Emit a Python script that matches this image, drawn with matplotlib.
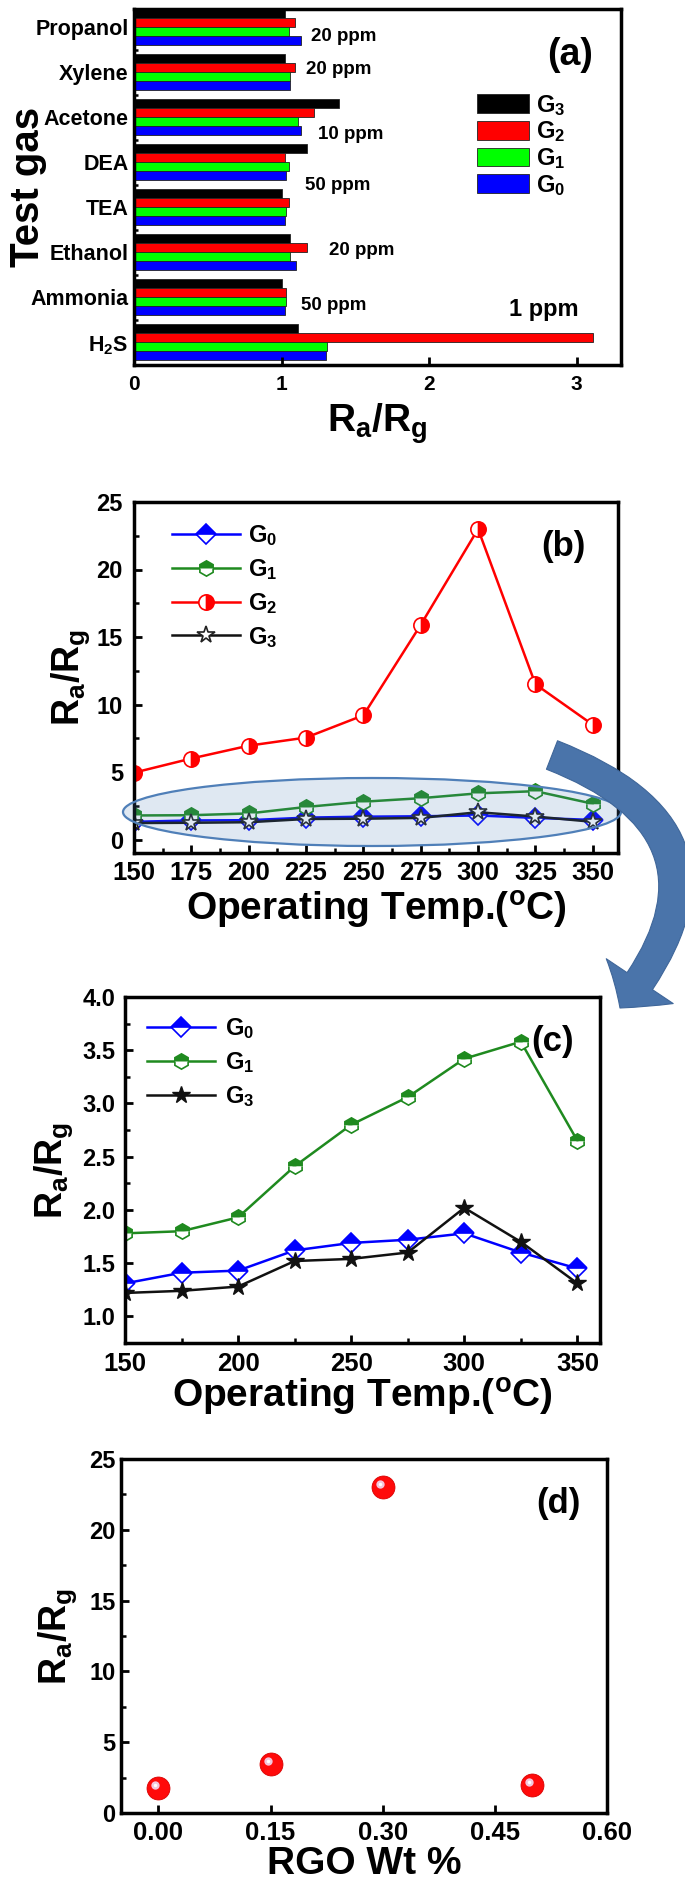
import matplotlib
matplotlib.use('Agg')
import matplotlib.pyplot as plt
from matplotlib.patches import Ellipse, FancyArrowPatch
from matplotlib.ticker import MultipleLocator, FormatStrFormatter
from matplotlib.transforms import offset_copy

plt.rcParams['font.family'] = ['Liberation Sans', 'DejaVu Sans']
plt.rcParams['font.weight'] = 'bold'
plt.rcParams['axes.labelweight'] = 'bold'
plt.rcParams['mathtext.fontset'] = 'custom'
plt.rcParams['mathtext.rm'] = 'Liberation Sans:bold'
plt.rcParams['mathtext.it'] = 'Liberation Sans:bold'
plt.rcParams['mathtext.bf'] = 'Liberation Sans:bold'
plt.rcParams['mathtext.default'] = 'rm'
plt.rcParams['axes.linewidth'] = 2.5
plt.rcParams['xtick.direction'] = 'in'
plt.rcParams['ytick.direction'] = 'in'

# (a) response to different gases, bottom to top
gases = ['H$_2$S', 'Ammonia', 'Ethanol', 'TEA', 'DEA', 'Acetone', 'Xylene', 'Propanol']
resp_g3 = [1.11, 1.00, 1.06, 1.00, 1.17, 1.39, 1.02, 1.02]
resp_g2 = [3.11, 1.03, 1.17, 1.05, 1.02, 1.22, 1.09, 1.09]
resp_g1 = [1.31, 1.03, 1.06, 1.03, 1.05, 1.11, 1.06, 1.05]
resp_g0 = [1.30, 1.02, 1.10, 1.02, 1.03, 1.13, 1.06, 1.13]
conc_text = ['20 ppm', '20 ppm', '10 ppm', '50 ppm', '20 ppm', '50 ppm']
conc_x = [1.42, 1.39, 1.47, 1.38, 1.54, 1.35]
conc_y = [6.78, 6.06, 4.62, 3.48, 2.04, 0.83]

# (b), (c) response vs operating temperature
temps = [150, 175, 200, 225, 250, 275, 300, 325, 350]
t_g0 = [1.31, 1.41, 1.43, 1.62, 1.69, 1.72, 1.78, 1.60, 1.45]
t_g1 = [1.78, 1.80, 1.93, 2.41, 2.80, 3.06, 3.42, 3.58, 2.65]
t_g2 = [4.95, 6.00, 6.95, 7.55, 9.20, 15.9, 23.0, 11.5, 8.50]
t_g3 = [1.22, 1.24, 1.28, 1.52, 1.54, 1.60, 2.02, 1.70, 1.31]

# (d) response vs RGO loading
rgo = [0.00, 0.15, 0.30, 0.50]
rgo_resp = [1.75, 3.45, 23.0, 2.0]

W, H = 685, 1895
fig = plt.figure(figsize=(W / 100, H / 100), dpi=100)


def box(l, t, r, b):
    return [l / W, 1 - b / H, (r - l) / W, (b - t) / H]


def style(ax, xs=18, ys=16, xpad=6, ypad=7):
    ax.tick_params(which='major', length=6, width=2, labelsize=xs, pad=xpad, axis='x')
    ax.tick_params(which='major', length=6, width=2, labelsize=ys, pad=ypad, axis='y')
    ax.tick_params(which='minor', length=3.5, width=1.8)
    for s in ax.spines.values():
        s.set_linewidth(2.5)


ratio = r'R$_a$/R$_g$'
temp_label = r'Operating Temp.($^\mathrm{o}$C)'

# ---------------- (a)
ax = fig.add_axes(box(134, 9, 621, 365))
y = list(range(len(gases)))
bh = 0.2
for vals, off, col, lab in [(resp_g3, 0.3, '#000000', 'G$_3$'),
                            (resp_g2, 0.1, '#ff0000', 'G$_2$'),
                            (resp_g1, -0.1, '#00ff00', 'G$_1$'),
                            (resp_g0, -0.3, '#0000ff', 'G$_0$')]:
    ax.barh([v + off for v in y], vals, height=bh, color=col,
            edgecolor='#222222', linewidth=0.6, label=lab)
ax.set_xlim(0, 3.3)
ax.set_ylim(-0.5, 7.4)
ax.set_yticks(y)
ax.set_yticklabels(gases)
ax.set_yticks([v + 0.5 for v in y[:-1]], minor=True)
ax.set_xticks([0, 1, 2, 3])
style(ax, xs=15, ys=15.5, xpad=7, ypad=4)
ax.tick_params(axis='y', which='major', length=0)
ax.tick_params(axis='y', which='minor', length=3)
ax.set_xlabel(ratio, fontsize=28)
ax.set_ylabel('Test gas', fontsize=29)
ax.xaxis.set_label_coords(0.5, -0.165)
ax.xaxis.label.set_va('center')
ax.yaxis.set_label_coords(-0.218, 0.5)
ax.yaxis.label.set_va('center')
for t, xx, yy in zip(conc_text, conc_x, conc_y):
    ax.text(xx, yy, t, fontsize=13.5, ha='center', va='center')
ax.text(2.78, 0.74, '1 ppm', fontsize=17, ha='center', va='center')
ax.text(0.895, 0.87, '(a)', transform=ax.transAxes, fontsize=27, ha='center', va='center')
ax.legend(loc='upper left', bbox_to_anchor=(0.704, 0.765), frameon=False,
          fontsize=17, handlelength=2.2, handleheight=0.85, handletextpad=0.3,
          labelspacing=0.08, borderpad=0, borderaxespad=0)

# ---------------- (b)
ax = fig.add_axes(box(134, 502, 618, 853))
ms = 11
ax.plot(temps, t_g0, color='#0000ff', lw=1.8, marker='D', ms=10, fillstyle='top',
        mfc='#0000ff', mfcalt='white', mec='#0000ff', mew=1.2, label='G$_0$')
ax.plot(temps, t_g1, color='#1f8a1f', lw=1.8, marker='h', ms=ms, fillstyle='top',
        mfc='#1f8a1f', mfcalt='white', mec='#1f8a1f', mew=1.2, label='G$_1$')
ax.plot(temps, t_g2, color='#ff0000', lw=1.8, marker='o', ms=ms, fillstyle='right',
        mfc='#ff0000', mfcalt='white', mec='#ff0000', mew=1.2, label='G$_2$')
ax.plot(temps, t_g3, color='#111111', lw=1.8, marker='*', ms=13,
        mfc='white', mec='#222222', mew=1.2, label='G$_3$')
ax.set_xlim(150, 361)
ax.set_ylim(-1, 25)
ax.set_xticks(temps)
ax.xaxis.set_minor_locator(MultipleLocator(12.5))
ax.yaxis.set_major_locator(MultipleLocator(5))
ax.yaxis.set_minor_locator(MultipleLocator(2.5))
style(ax, xs=18.5, ys=17, xpad=6, ypad=8)
ax.set_xlabel(temp_label, fontsize=28)
ax.set_ylabel(ratio, fontsize=27)
ax.xaxis.set_label_coords(0.5, -0.162)
ax.xaxis.label.set_va('center')
ax.yaxis.set_label_coords(-0.13, 0.5)
ax.yaxis.label.set_va('center')
ax.text(0.887, 0.874, '(b)', transform=ax.transAxes, fontsize=25, ha='center', va='center')
ax.legend(loc='upper left', bbox_to_anchor=(0.0785, 0.94), frameon=False,
          fontsize=17, handlelength=2.9, handletextpad=0.3, labelspacing=0.38,
          numpoints=1, borderpad=0, borderaxespad=0)

# highlight ellipse over the low-response curves
fig.add_artist(Ellipse((372 / W, 1 - 812 / H), 498 / W, 68 / H, transform=fig.transFigure,
                       facecolor=(0.31, 0.5, 0.72, 0.18), edgecolor='#4f7fb8', lw=1.6))

# curved arrow from (b) to (c)
fig.add_artist(FancyArrowPatch((552 / W, 1 - 755 / H), (620 / W, 1 - 1008 / H),
                               transform=fig.transFigure,
                               connectionstyle='arc3,rad=-0.68',
                               arrowstyle='simple,head_length=1.2,head_width=2.9,tail_width=1.1',
                               mutation_scale=20, shrinkA=0, shrinkB=0,
                               facecolor='#4a74aa', edgecolor='#3f6699', lw=0.8))

# ---------------- (c)
ax = fig.add_axes(box(125, 997, 600, 1343))
ax.plot(temps, t_g0, color='#0000ff', lw=1.8, marker='D', ms=10, fillstyle='top',
        mfc='#0000ff', mfcalt='white', mec='#0000ff', mew=1.2, label='G$_0$')
ax.plot(temps, t_g1, color='#1f8a1f', lw=1.8, marker='h', ms=ms, fillstyle='top',
        mfc='#1f8a1f', mfcalt='white', mec='#1f8a1f', mew=1.2, label='G$_1$')
ax.plot(temps, t_g3, color='#111111', lw=1.8, marker='*', ms=13,
        mfc='#111111', mec='#111111', mew=1.0, label='G$_3$')
ax.set_xlim(150, 360)
ax.set_ylim(0.75, 4.0)
ax.xaxis.set_major_locator(MultipleLocator(50))
ax.xaxis.set_minor_locator(MultipleLocator(25))
ax.yaxis.set_major_locator(MultipleLocator(0.5))
ax.yaxis.set_minor_locator(MultipleLocator(0.25))
ax.yaxis.set_major_formatter(FormatStrFormatter('%.1f'))
style(ax, xs=18.5, ys=17, xpad=6.5, ypad=7)
ax.set_xlabel(temp_label, fontsize=28)
ax.set_ylabel(ratio, fontsize=27)
ax.xaxis.set_label_coords(0.5, -0.156)
ax.xaxis.label.set_va('center')
ax.yaxis.set_label_coords(-0.15, 0.5)
ax.yaxis.label.set_va('center')
ax.text(0.9, 0.87, '(c)', transform=ax.transAxes, fontsize=25, ha='center', va='center')
ax.legend(loc='upper left', bbox_to_anchor=(0.046, 0.945), frameon=False,
          fontsize=17, handlelength=2.9, handletextpad=0.4, labelspacing=0.38,
          numpoints=1, borderpad=0, borderaxespad=0)

# ---------------- (d)
ax = fig.add_axes(box(121, 1459, 607, 1813))
ax.plot(rgo, rgo_resp, ls='none', marker='o', ms=16.5, mfc='#ff0a0a', mec='#d80000', mew=0.6)
hl = offset_copy(ax.transData, fig=fig, x=-3, y=3, units='dots')
ax.plot(rgo, rgo_resp, ls='none', marker='o', ms=6, mfc='#f2c6dc', mec='none', transform=hl)
ax.plot(rgo, rgo_resp, ls='none', marker='o', ms=2.5, mfc='white', mec='none', transform=hl)
ax.set_xlim(-0.05, 0.6)
ax.set_ylim(0, 25)
ax.set_xticks([0, 0.15, 0.30, 0.45, 0.60])
ax.xaxis.set_major_formatter(FormatStrFormatter('%.2f'))
ax.yaxis.set_major_locator(MultipleLocator(5))
ax.yaxis.set_minor_locator(MultipleLocator(2.5))
style(ax, xs=18.5, ys=17, xpad=6, ypad=4)
ax.set_xlabel('RGO Wt %', fontsize=28)
ax.set_ylabel(ratio, fontsize=27)
ax.xaxis.set_label_coords(0.5, -0.144)
ax.xaxis.label.set_va('center')
ax.yaxis.set_label_coords(-0.13, 0.5)
ax.yaxis.label.set_va('center')
ax.text(0.9, 0.875, '(d)', transform=ax.transAxes, fontsize=25, ha='center', va='center')

fig.savefig('out.png', dpi=100)
